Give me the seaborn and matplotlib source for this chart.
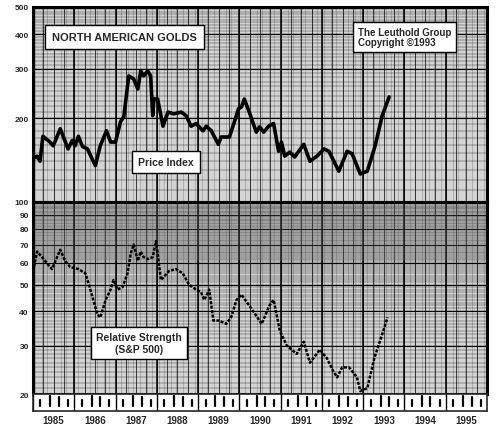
import numpy as np
import pandas as pd
import seaborn as sns
import matplotlib.pyplot as plt
from matplotlib.ticker import FixedLocator, NullFormatter

price_t = [1985.00, 1985.10, 1985.17, 1985.24, 1985.41, 1985.49, 1985.66, 1985.85, 1985.95,
           1986.02, 1986.10, 1986.20, 1986.32, 1986.51, 1986.63, 1986.78, 1986.88, 1987.00,
           1987.12, 1987.20, 1987.32, 1987.44, 1987.54, 1987.61, 1987.68, 1987.78, 1987.85,
           1987.90, 1987.93, 1988.02, 1988.15, 1988.27, 1988.41, 1988.59, 1988.71, 1988.83,
           1988.95, 1989.12, 1989.20, 1989.32, 1989.49, 1989.56, 1989.76, 1989.88, 1989.98,
           1990.05, 1990.12, 1990.24, 1990.41, 1990.49, 1990.59, 1990.71, 1990.83, 1990.95,
           1991.02, 1991.10, 1991.22, 1991.34, 1991.56, 1991.71, 1991.88, 1992.05, 1992.17,
           1992.41, 1992.61, 1992.73, 1992.93, 1993.10, 1993.29, 1993.46, 1993.63]
price = [143, 146, 140, 172, 164, 159, 183, 155, 166,
         159, 172, 158, 155, 135, 159, 180, 164, 164,
         194, 202, 283, 276, 254, 295, 283, 295, 283,
         204, 234, 234, 187, 210, 207, 210, 204, 187,
         191, 180, 187, 180, 161, 171, 171, 194, 216,
         219, 234, 210, 178, 186, 178, 187, 191, 152,
         164, 146, 151, 145, 161, 140, 146, 155, 152,
         129, 152, 149, 126, 129, 159, 204, 238]

rs_t = [1985.00, 1985.10, 1985.22, 1985.37, 1985.46, 1985.66, 1985.78, 1985.90, 1986.10,
        1986.27, 1986.39, 1986.56, 1986.63, 1986.76, 1986.88, 1986.95, 1987.05, 1987.17,
        1987.29, 1987.37, 1987.44, 1987.54, 1987.61, 1987.68, 1987.78, 1987.90, 1987.98,
        1988.02, 1988.10, 1988.29, 1988.46, 1988.63, 1988.78, 1988.95, 1989.07, 1989.15,
        1989.27, 1989.37, 1989.51, 1989.68, 1989.80, 1989.93, 1990.05, 1990.29, 1990.54,
        1990.73, 1990.83, 1990.98, 1991.15, 1991.39, 1991.56, 1991.71, 1991.95, 1992.12,
        1992.29, 1992.37, 1992.49, 1992.66, 1992.85, 1992.93, 1993.10, 1993.27, 1993.46,
        1993.59]
rs = [56, 66, 63, 59, 57, 67, 61, 58, 57,
      55, 48, 39, 38, 44, 48, 52, 48, 49,
      55, 65, 70, 61, 66, 63, 62, 63, 72,
      65, 52, 56, 57, 55, 50, 48, 47, 44,
      48, 37, 37, 36, 38, 44, 46, 41, 36,
      42, 44, 34, 30, 28, 31, 26, 29, 27,
      24, 23, 25, 25, 23, 20.5, 21, 27, 33,
      38]

years = list(range(1985, 1996))
price_ticks = [100, 200, 300, 400, 500]
rs_ticks = [20, 30, 40, 50, 60, 70, 80, 90, 100]

sns.set_style("white")
plt.rcParams['font.family'] = ['Liberation Sans', 'DejaVu Sans']

fig = plt.figure(figsize=(4.99, 4.31), dpi=100)
L, W = 33 / 499, 454 / 499
ax1 = fig.add_axes([L, 1 - 203 / 431, W, 195 / 431])
ax2 = fig.add_axes([L, 1 - 395 / 431, W, 192 / 431])
ax3 = fig.add_axes([L, 1 - 412 / 431, W, 17 / 431])


def grid_axis(ax, lo, hi, ticks, labels):
    ax.set_yscale('log')
    ax.set_ylim(lo, hi)
    ax.set_xlim(1985, 1996)
    fine = np.concatenate([np.arange(d, d * 10, d / 10) for d in [10, 100]])
    fine = fine[(fine > lo) & (fine < hi)]
    for v in fine:
        ax.axhline(v, color='black', lw=0.25, zorder=0)
    for v in ticks:
        ax.axhline(v, color='black', lw=0.8, zorder=0)
    for x in np.arange(1985, 1996, 1 / 24):
        ax.axvline(x, color='black', lw=0.25, zorder=0)
    for x in np.arange(1985, 1996, 0.25):
        ax.axvline(x, color='black', lw=0.5, zorder=0)
    for x in years:
        ax.axvline(x, color='black', lw=1.1, zorder=0)
    ax.yaxis.set_major_locator(FixedLocator(ticks))
    ax.yaxis.set_major_formatter(plt.FixedFormatter(labels))
    ax.yaxis.set_minor_formatter(NullFormatter())
    ax.tick_params(axis='y', length=0, labelsize=6, pad=3)
    for lab in ax.get_yticklabels():
        lab.set_fontweight('bold')
    ax.set_xticks([])
    for s in ax.spines.values():
        s.set_linewidth(2.2)
        s.set_color('black')


grid_axis(ax1, 100, 500, price_ticks, [str(t) for t in price_ticks])
grid_axis(ax2, 20, 100, rs_ticks, [str(t) for t in rs_ticks[:-1]] + [''])
ax2.axhspan(62, 100, color='#777777', alpha=0.25, zorder=0.5)

dp = pd.DataFrame({'t': price_t, 'v': price})
dr = pd.DataFrame({'t': rs_t, 'v': rs})
sns.lineplot(data=dp, x='t', y='v', ax=ax1, color='black', lw=2.6, zorder=3)
sns.lineplot(data=dr, x='t', y='v', ax=ax2, color='black', lw=1.8,
             linestyle=(0, (1.2, 0.6)), zorder=3)
for ax in (ax1, ax2):
    ax.set_xlabel('')
    ax.set_ylabel('')

# month strip
ax3.set_xlim(1985, 1996)
ax3.set_ylim(0, 1)
ax3.set_xticks([])
ax3.set_yticks([])
for s in ax3.spines.values():
    s.set_linewidth(1.2)
for y in years:
    ax3.axvline(y, color='black', lw=1.0)
    for q, h in zip([0.18, 0.42, 0.63, 0.85], [0.35, 0.6, 0.5, 0.35]):
        ax3.plot([y + q, y + q], [0.3, 0.3 + h], color='black', lw=1.6)
for y in years:
    fig.text(L + W * (y + 0.5 - 1985) / 11, 1 - 421 / 431, str(y), ha='center',
             va='center', fontsize=7, fontweight='bold')

box = dict(boxstyle='square,pad=0.5', fc='white', ec='black', lw=1.0)
fig.text(52 / 499, 1 - 38 / 431, 'NORTH AMERICAN GOLDS', fontsize=8, fontweight='bold',
         va='center', bbox=dict(boxstyle='square,pad=0.6', fc='white', ec='black', lw=1.0))
fig.text(166 / 499, 1 - 163 / 431, 'Price Index', fontsize=7.5, fontweight='bold',
         ha='center', va='center', bbox=dict(boxstyle='square,pad=0.6', fc='white', ec='black', lw=1.0))
fig.text(358 / 499, 1 - 38 / 431, 'The Leuthold Group\nCopyright ©1993', fontsize=7,
         fontweight='bold', va='center', linespacing=1.1, bbox=box)
fig.text(139 / 499, 1 - 344 / 431, 'Relative Strength\n(S&P 500)', fontsize=7.5,
         fontweight='bold', ha='center', va='center', linespacing=1.15, bbox=box)

fig.savefig('out.png', dpi=100)
